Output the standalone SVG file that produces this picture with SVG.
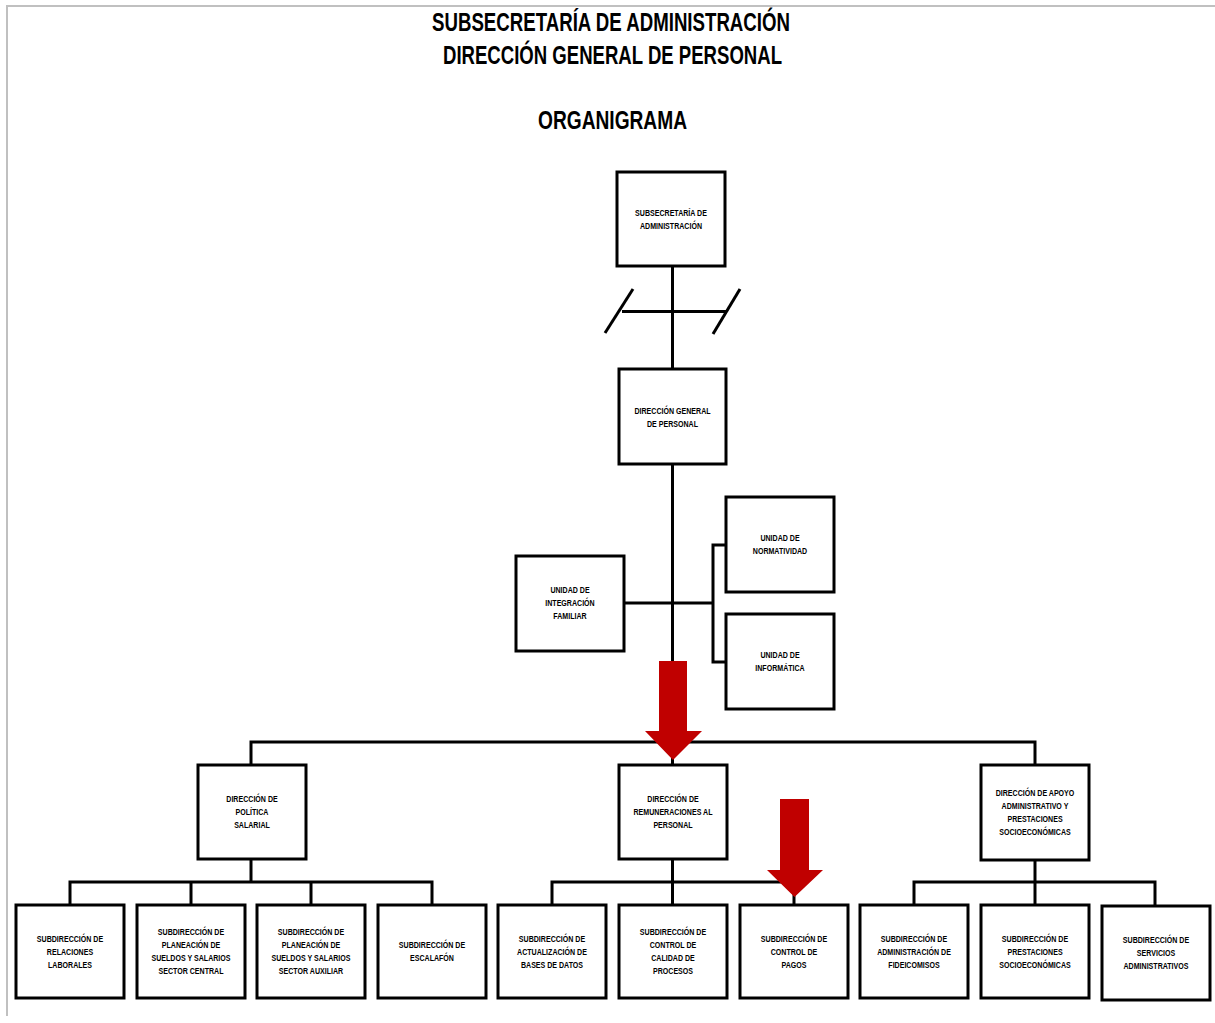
<svg xmlns="http://www.w3.org/2000/svg" width="1215" height="1023" viewBox="0 0 1215 1023">
<style>
.frame{fill:none;stroke:#c0c0c0;stroke-width:2}
.box{fill:#fff;stroke:#000;stroke-width:3}
.ln{fill:none;stroke:#000;stroke-width:3}
.t{font-family:"Liberation Sans",Arial,sans-serif;font-weight:bold;font-size:9.3px;fill:#000;text-anchor:middle}
.title{font-family:"Liberation Sans",Arial,sans-serif;font-weight:bold;font-size:25px;fill:#000;text-anchor:middle}
.red{fill:#c00000}
</style>
<rect width="1215" height="1023" fill="#fff"/>
<path class="frame" d="M7,1016 V6 H1215"/>
<g id="titles">
<text class="title" x="611" y="31" textLength="358" lengthAdjust="spacingAndGlyphs">SUBSECRETARÍA DE ADMINISTRACIÓN</text>
<text class="title" x="612.5" y="64" textLength="339" lengthAdjust="spacingAndGlyphs">DIRECCIÓN GENERAL DE PERSONAL</text>
<text class="title" x="612.5" y="129" textLength="149" lengthAdjust="spacingAndGlyphs">ORGANIGRAMA</text>
</g>
<g id="connectors">
<line class="ln" x1="672.5" y1="266" x2="672.5" y2="742"/>
<line class="ln" x1="622" y1="311.5" x2="727" y2="311.5"/>
<line class="ln" x1="605" y1="333" x2="633" y2="289"/>
<line class="ln" x1="713" y1="334" x2="740" y2="289"/>
<line class="ln" x1="624" y1="603" x2="713" y2="603"/>
<path class="ln" d="M726,545 H713 V662 H726"/>
<path class="ln" d="M251,765 V742 H1035 V765"/>
<line class="ln" x1="672.5" y1="742" x2="672.5" y2="765"/>
<path class="ln" d="M251,859 V882"/>
<path class="ln" d="M70,905 V882 H432 V905"/>
<path class="ln" d="M191,882 V905 M311,882 V905"/>
<path class="ln" d="M672.5,859 V905"/>
<path class="ln" d="M552,905 V882 H794 V905"/>
<path class="ln" d="M1035,860 V905"/>
<path class="ln" d="M914,905 V882 H1155 V906"/>
</g>
<g id="n-subsecretaria">
<rect class="box" x="617" y="172" width="108" height="94"/>
<text class="t" transform="translate(671,0) scale(0.76,1)"><tspan x="0" y="216">SUBSECRETARÍA DE</tspan><tspan x="0" y="229">ADMINISTRACIÓN</tspan></text>
</g>
<g id="n-dgp">
<rect class="box" x="619" y="369" width="107" height="95"/>
<text class="t" transform="translate(672.5,0) scale(0.76,1)"><tspan x="0" y="414">DIRECCIÓN GENERAL</tspan><tspan x="0" y="427">DE PERSONAL</tspan></text>
</g>
<g id="n-integracion">
<rect class="box" x="516" y="556" width="108" height="95"/>
<text class="t" transform="translate(570,0) scale(0.76,1)"><tspan x="0" y="593.5">UNIDAD DE</tspan><tspan x="0" y="606.5">INTEGRACIÓN</tspan><tspan x="0" y="619.5">FAMILIAR</tspan></text>
</g>
<g id="n-normatividad">
<rect class="box" x="726" y="497" width="108" height="95"/>
<text class="t" transform="translate(780,0) scale(0.76,1)"><tspan x="0" y="541.5">UNIDAD DE</tspan><tspan x="0" y="554.5">NORMATIVIDAD</tspan></text>
</g>
<g id="n-informatica">
<rect class="box" x="726" y="614" width="108" height="95"/>
<text class="t" transform="translate(780,0) scale(0.76,1)"><tspan x="0" y="658.5">UNIDAD DE</tspan><tspan x="0" y="671.5">INFORMÁTICA</tspan></text>
</g>
<g id="n-politica">
<rect class="box" x="198" y="765" width="108" height="94"/>
<text class="t" transform="translate(252,0) scale(0.76,1)"><tspan x="0" y="802">DIRECCIÓN DE</tspan><tspan x="0" y="815">POLÍTICA</tspan><tspan x="0" y="828">SALARIAL</tspan></text>
</g>
<g id="n-remuneraciones">
<rect class="box" x="619" y="765" width="108" height="94"/>
<text class="t" transform="translate(673,0) scale(0.76,1)"><tspan x="0" y="802">DIRECCIÓN DE</tspan><tspan x="0" y="815">REMUNERACIONES AL</tspan><tspan x="0" y="828">PERSONAL</tspan></text>
</g>
<g id="n-apoyo">
<rect class="box" x="981" y="765" width="108" height="95"/>
<text class="t" transform="translate(1035,0) scale(0.76,1)"><tspan x="0" y="796">DIRECCIÓN DE APOYO</tspan><tspan x="0" y="809">ADMINISTRATIVO Y</tspan><tspan x="0" y="822">PRESTACIONES</tspan><tspan x="0" y="835">SOCIOECONÓMICAS</tspan></text>
</g>
<g id="n-relaciones">
<rect class="box" x="16" y="905" width="108" height="93"/>
<text class="t" transform="translate(70,0) scale(0.76,1)"><tspan x="0" y="942">SUBDIRECCIÓN DE</tspan><tspan x="0" y="955">RELACIONES</tspan><tspan x="0" y="968">LABORALES</tspan></text>
</g>
<g id="n-planeacion-central">
<rect class="box" x="137" y="905" width="108" height="93"/>
<text class="t" transform="translate(191,0) scale(0.76,1)"><tspan x="0" y="935.5">SUBDIRECCIÓN DE</tspan><tspan x="0" y="948.5">PLANEACIÓN DE</tspan><tspan x="0" y="961.5">SUELDOS Y SALARIOS</tspan><tspan x="0" y="974.5">SECTOR CENTRAL</tspan></text>
</g>
<g id="n-planeacion-auxiliar">
<rect class="box" x="257" y="905" width="108" height="93"/>
<text class="t" transform="translate(311,0) scale(0.76,1)"><tspan x="0" y="935.5">SUBDIRECCIÓN DE</tspan><tspan x="0" y="948.5">PLANEACIÓN DE</tspan><tspan x="0" y="961.5">SUELDOS Y SALARIOS</tspan><tspan x="0" y="974.5">SECTOR AUXILIAR</tspan></text>
</g>
<g id="n-escalafon">
<rect class="box" x="378" y="905" width="108" height="93"/>
<text class="t" transform="translate(432,0) scale(0.76,1)"><tspan x="0" y="948.5">SUBDIRECCIÓN DE</tspan><tspan x="0" y="961.5">ESCALAFÓN</tspan></text>
</g>
<g id="n-actualizacion">
<rect class="box" x="498" y="905" width="108" height="93"/>
<text class="t" transform="translate(552,0) scale(0.76,1)"><tspan x="0" y="942">SUBDIRECCIÓN DE</tspan><tspan x="0" y="955">ACTUALIZACIÓN DE</tspan><tspan x="0" y="968">BASES DE DATOS</tspan></text>
</g>
<g id="n-calidad">
<rect class="box" x="619" y="905" width="108" height="93"/>
<text class="t" transform="translate(673,0) scale(0.76,1)"><tspan x="0" y="935.5">SUBDIRECCIÓN DE</tspan><tspan x="0" y="948.5">CONTROL DE</tspan><tspan x="0" y="961.5">CALIDAD DE</tspan><tspan x="0" y="974.5">PROCESOS</tspan></text>
</g>
<g id="n-pagos">
<rect class="box" x="740" y="905" width="108" height="93"/>
<text class="t" transform="translate(794,0) scale(0.76,1)"><tspan x="0" y="942">SUBDIRECCIÓN DE</tspan><tspan x="0" y="955">CONTROL DE</tspan><tspan x="0" y="968">PAGOS</tspan></text>
</g>
<g id="n-fideicomisos">
<rect class="box" x="860" y="905" width="108" height="93"/>
<text class="t" transform="translate(914,0) scale(0.76,1)"><tspan x="0" y="942">SUBDIRECCIÓN DE</tspan><tspan x="0" y="955">ADMINISTRACIÓN DE</tspan><tspan x="0" y="968">FIDEICOMISOS</tspan></text>
</g>
<g id="n-prestaciones">
<rect class="box" x="981" y="905" width="108" height="93"/>
<text class="t" transform="translate(1035,0) scale(0.76,1)"><tspan x="0" y="942">SUBDIRECCIÓN DE</tspan><tspan x="0" y="955">PRESTACIONES</tspan><tspan x="0" y="968">SOCIOECONÓMICAS</tspan></text>
</g>
<g id="n-servicios">
<rect class="box" x="1102" y="906" width="108" height="94"/>
<text class="t" transform="translate(1156,0) scale(0.76,1)"><tspan x="0" y="943">SUBDIRECCIÓN DE</tspan><tspan x="0" y="956">SERVICIOS</tspan><tspan x="0" y="969">ADMINISTRATIVOS</tspan></text>
</g>
<g id="highlight-arrows">
<polygon class="red" points="659,661 687,661 687,731 702,731 673,760 645,731 659,731"/>
<polygon class="red" points="780,799 809,799 809,870 823,870 794.5,897 767,870 780,870"/>
</g>
</svg>
